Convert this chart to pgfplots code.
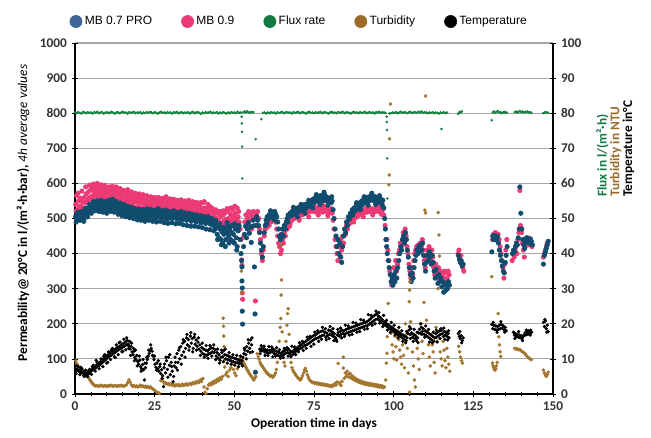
\documentclass[border=0pt]{standalone}
\usepackage{pgfplots}
\pgfplotsset{compat=1.18}
\usepackage{fontspec}
\setmainfont{Carlito}
\newfontfamily\legfont{Liberation Sans}

\definecolor{cBlue}{HTML}{0F4C6E}
\definecolor{cPink}{HTML}{EC3A75}
\definecolor{cGreen}{HTML}{12833E}
\definecolor{cBrown}{HTML}{A4752E}
\definecolor{lBlue}{HTML}{3F6597}
\definecolor{lPink}{HTML}{EB3A74}
\definecolor{lGreen}{HTML}{117A43}
\definecolor{lBrown}{HTML}{9C6A28}
\definecolor{gridgray}{HTML}{A6A6A6}

\pgfplotsset{
  common/.style={
    width=358.5pt, height=263.25pt, scale only axis,
    xmin=0, xmax=150,
    /pgf/number format/assume math mode=true,
    /pgf/number format/1000 sep={},
    tick label style={font=\bfseries\fontsize{10}{12}\selectfont, text=black!80},
    tick align=center,
    major tick length=5pt,
    minor tick length=2.5pt,
    tick style={black, line width=0.6pt},
  },
  pinkdots/.style={forget plot, only marks, mark=*, mark size=1.7pt, cPink, mark options={fill=cPink, draw=cPink}},
  bluedots/.style={forget plot, only marks, mark=*, mark size=1.7pt, cBlue, mark options={fill=cBlue, draw=cBlue}},
  tempdots/.style={only marks, mark=*, mark size=1.05pt, black, mark options={fill=black, draw=black}},
}

\begin{document}
\begin{tikzpicture}
\begin{axis}[
  common,
  at={(0,0)}, anchor=south west,
  ymin=0, ymax=1000,
  xtick={0,25,...,150},
  minor x tick num=4,
  ytick={0,100,...,1000},
  axis x line*=bottom,
  axis y line*=left,
  axis line style={black, line width=0.8pt},
  ymajorgrids=true,
  grid style={gridgray, line width=0.8pt},
  xlabel={\bfseries Operation time in days},
  xlabel style={font=\fontsize{10}{12}\selectfont, at={(axis description cs:0.5,0)}, anchor=center, yshift=-22.5pt},
  ylabel={\bfseries Permeability@ 20°C in l/(m²·h·bar), \textit{\mdseries 4h average values}},
  ylabel style={font=\fontsize{10}{12}\selectfont, at={(axis description cs:-0.1088,0.516)}, anchor=center},
  legend style={draw=none, fill=none, at={(0.47,1.03)}, anchor=south, legend columns=5,
    font=\legfont\fontsize{9}{11}\selectfont, /tikz/every even column/.append style={column sep=20pt}},
  legend image post style={mark size=4.6pt},
  legend image code/.code={\draw[mark repeat=2,mark phase=2] plot coordinates {(0cm,0cm) (0.3cm,0cm) (0.6cm,0cm)};},
]
\addlegendimage{only marks, mark=*, lBlue, mark options={fill=lBlue, draw=lBlue}}
\addlegendentry{MB 0.7 PRO}
\addlegendimage{only marks, mark=*, lPink, mark options={fill=lPink, draw=lPink}}
\addlegendentry{MB 0.9}
\addlegendimage{only marks, mark=*, lGreen, mark options={fill=lGreen, draw=lGreen}}
\addlegendentry{Flux rate}
\addlegendimage{only marks, mark=*, lBrown, mark options={fill=lBrown, draw=lBrown}}
\addlegendentry{Turbidity}
\addlegendimage{only marks, mark=*, black, mark options={fill=black, draw=black}}
\addlegendentry{Temperature}

% MB 0.9
\addplot[pinkdots] coordinates {
(0.2,540)(0.5,565)(0.8,525)(1.1,550)(1.4,530)(1.7,558)(2.0,535)(2.3,548)(2.6,528)(2.9,560)
(3.2,545)(3.5,570)(3.8,552)(4.1,575)(4.4,558)(4.7,580)(5.0,562)(5.3,585)(5.6,565)(5.9,578)(6.2,590)(6.5,570)(6.8,582)(7.1,565)(7.4,588)(7.7,575)(8.0,592)(8.3,568)(8.6,580)(8.9,572)(9.2,586)(9.5,565)(9.8,578)(10.1,560)(10.4,575)(10.7,590)(11.0,568)(11.3,582)(11.6,560)(11.9,574)
(12.2,588)(12.5,565)(12.8,578)(13.1,558)(13.4,572)(13.7,582)(14.0,562)(14.3,575)(14.6,555)(14.9,570)(15.2,550)(15.5,566)(15.8,578)(16.1,556)(16.4,568)(16.7,548)(17.0,562)(17.3,574)(17.6,552)(17.9,565)(18.2,545)(18.5,560)(18.8,548)(19.1,568)(19.4,550)(19.7,560)(20.0,542)(20.3,556)(20.6,545)(20.9,562)(21.2,548)(21.5,555)(21.8,540)(22.1,552)(22.4,545)(22.7,558)(23.0,540)(23.3,550)(23.6,535)(23.9,548)(24.2,555)(24.5,538)(24.8,550)
(25.1,532)(25.4,545)(25.7,538)(26.0,552)(26.3,530)(26.6,545)(26.9,536)(27.2,548)(27.5,528)(27.8,540)(28.1,555)(28.4,535)(28.7,546)(29.0,530)(29.3,542)(29.6,552)(29.9,534)(30.2,545)(30.5,528)(30.8,540)(31.1,550)(31.4,532)(31.7,544)(32.0,526)(32.3,538)(32.6,548)(32.9,530)(33.2,542)(33.5,524)(33.8,536)(34.1,546)(34.4,528)(34.7,540)(35.0,522)(35.3,534)(35.6,544)(35.9,526)(36.2,538)(36.5,520)(36.8,532)(37.1,542)(37.4,524)(37.7,535)(38.0,518)(38.3,530)(38.6,540)(38.9,522)(39.2,533)(39.5,516)(39.8,528)(40.1,545)(40.4,520)(40.7,530)(41.0,515)(41.3,526)(41.6,512)(41.9,524)(42.2,535)(42.5,515)(42.8,522)(43.1,508)(43.4,520)(43.7,505)(44.0,515)
(44.3,500)(44.6,520)(44.9,495)(45.2,512)(45.5,488)(45.8,505)(46.1,480)(46.4,510)(46.7,492)(47.0,515)(47.3,498)(47.6,485)(47.9,520)(48.2,500)(48.5,490)(48.8,512)(49.1,495)(49.4,525)(49.7,505)(50.0,488)(50.3,515)(50.6,498)(50.9,530)(51.2,505)(51.5,490)(51.8,470)(52.1,440)(52.3,382)(52.4,367)(52.5,288)(52.6,270)
(53.0,450)(53.3,490)(53.6,510)(53.9,480)(54.2,500)(54.5,520)(54.8,495)(55.1,510)(55.4,470)(55.7,505)(56.0,520)(56.3,480)(56.6,265)(56.9,510)
(57.3,520)(57.6,500)(57.9,470)(58.2,440)(58.5,400)(58.8,380)(59.1,410)(59.4,450)(59.7,470)(60.0,485)(60.3,475)(60.6,495)(60.9,480)(61.2,500)(61.5,490)(61.8,505)(62.1,495)(62.4,510)(62.7,500)(63.0,490)(63.3,470)(63.6,450)(63.9,430)(64.2,420)(64.5,400)(64.8,410)(65.1,440)(65.4,430)(65.7,460)(66.0,450)(66.3,480)(66.6,470)
(66.9,490)(67.2,500)(67.5,485)(67.8,505)(68.1,495)(68.4,510)(68.7,500)(69.0,512)(69.3,502)(69.6,515)(69.9,505)(70.2,518)(70.5,508)(70.8,520)(71.1,510)(71.4,522)(71.7,512)(72.0,525)(72.3,515)(72.6,528)(72.9,518)(73.2,530)(73.5,520)(73.8,525)(74.1,532)(74.4,520)(74.7,528)(75.0,522)(75.3,530)(75.6,518)(75.9,526)(76.2,532)(76.5,520)(76.8,528)(77.1,522)(77.4,530)(77.7,518)(78.0,526)(78.3,520)(78.6,528)(78.9,522)(79.2,530)(79.5,518)(79.8,525)(80.1,520)(80.4,528)(80.7,515)
(81.0,495)(81.3,470)(81.6,440)(81.9,420)(82.2,400)(82.5,380)(82.8,420)(83.1,395)(83.4,440)(83.7,410)(84.0,450)(84.3,430)(84.6,470)(84.9,455)(85.2,480)(85.5,470)(85.8,495)
(86.1,485)(86.4,500)(86.7,490)(87.0,508)(87.3,498)(87.6,512)(87.9,502)(88.2,515)(88.5,505)(88.8,518)(89.1,510)(89.4,520)(89.7,512)(90.0,522)(90.3,515)(90.6,525)(90.9,517)(91.2,526)(91.5,518)(91.8,528)(92.1,520)(92.4,527)(92.7,519)(93.0,528)(93.3,521)(93.6,526)(93.9,519)(94.2,528)(94.5,522)(94.8,527)(95.1,520)(95.4,528)(95.7,522)(96.0,526)(96.3,520)(96.6,527)(96.9,510)
(97.3,480)(97.6,440)(97.9,440)(98.2,410)(98.5,380)(98.8,350)(99.1,340)(99.4,310)(99.7,330)(100.0,360)(100.3,340)(100.6,380)(100.9,350)(101.2,370)(101.5,400)(101.8,410)(102.1,430)(102.4,420)(102.7,440)(103.0,460)(103.3,430)(103.6,470)(103.9,450)(104.2,420)(104.5,400)(104.8,370)(105.1,350)(105.4,330)(105.7,360)(106.0,340)(106.3,380)(106.6,400)(106.9,410)(107.2,420)(107.5,415)(107.8,425)(108.1,410)(108.4,430)(108.7,420)(109.0,440)(109.3,410)(109.6,380)(109.9,360)(110.2,390)(110.5,410)(110.8,400)(111.1,420)(111.4,400)(111.7,380)(112.0,410)(112.3,390)(112.6,360)(112.9,340)(113.2,370)(113.5,350)(113.8,330)(114.1,360)(114.4,340)(114.7,350)(115.0,320)(115.3,340)(115.6,330)(115.9,350)(116.2,320)(116.5,345)(116.8,330)(117.1,350)(117.4,340)
(120.2,400)(120.5,410)(120.8,380)(121.1,395)(121.4,370)(121.7,360)(122.0,350)
(131.0,440)(131.3,455)(131.6,445)(131.9,460)(132.2,450)(132.5,445)(132.8,455)(133.1,440)(133.4,420)(133.7,400)(134.0,380)(134.3,360)(134.6,330)(134.9,370)(135.2,410)(135.5,440)
(137.2,380)(137.5,400)(137.8,390)(138.1,410)(138.4,420)(138.7,400)(139.0,440)(139.3,460)(139.6,580)(139.8,480)(140.1,460)(140.4,430)(140.7,410)(141.0,390)(141.3,420)(141.6,440)(141.9,430)(142.2,445)(142.5,425)(142.8,440)(143.1,430)(143.4,420)
(147.0,390)(147.3,400)(147.6,410)(147.9,420)(148.2,430)
};
\addplot[pinkdots] coordinates {
(0.35,520)(0.95,572)(1.55,535)(2.15,578)(2.75,518)(3.35,590)(3.95,548)(4.55,595)(5.15,555)(5.75,598)(6.35,560)(6.95,600)(7.55,555)(8.15,596)(8.75,558)(9.35,594)(9.95,552)(10.55,585)(11.15,550)(11.75,592)(12.35,552)(12.95,590)(13.55,548)(14.15,585)(14.75,545)(15.35,580)(15.95,540)(16.55,582)(17.15,538)(17.75,576)(18.35,535)(18.95,572)(19.55,532)(20.15,570)(20.75,530)(21.35,568)(21.95,528)(22.55,565)(23.15,525)(23.75,562)(24.35,522)(24.95,560)(25.55,520)(26.15,560)(26.75,518)(27.35,558)(27.95,515)(28.55,562)(29.15,516)(29.75,556)(30.35,512)(30.95,555)(31.55,514)(32.15,552)(32.75,510)(33.35,553)(33.95,512)(34.55,550)(35.15,508)(35.75,552)(36.35,506)(36.95,548)(37.55,505)(38.15,546)(38.75,504)(39.35,545)(39.95,502)(40.55,548)(41.15,500)(41.75,540)(42.35,498)(42.95,530)(43.55,492)(44.15,525)(44.75,485)(45.35,520)(45.95,475)(46.55,522)(47.15,478)(47.75,528)(48.35,475)(48.95,530)(49.55,482)(50.15,535)(50.75,478)(51.35,520)
(67.35,478)(68.85,520)(70.35,495)(71.85,532)(73.35,505)(74.85,538)(76.35,510)(77.85,536)(79.35,508)(87.45,490)(88.95,525)(90.45,505)(91.95,535)(93.45,510)(94.95,535)(96.15,512)
};

% MB 0.7 PRO
\addplot[bluedots] coordinates {
(0.2,505)(0.5,498)(0.8,512)(1.1,503)(1.4,508)(1.7,497)(2.0,515)(2.3,504)(2.6,510)(2.9,500)(3.2,520)(3.5,512)(3.8,524)(4.1,516)(4.4,530)(4.7,522)(5.0,535)(5.3,528)(5.6,538)(5.9,530)(6.2,540)(6.5,532)(6.8,545)(7.1,536)(7.4,530)(7.7,542)(8.0,535)(8.3,528)(8.6,540)(8.9,532)(9.2,526)(9.5,538)(9.8,530)(10.1,524)(10.4,536)(10.7,542)(11.0,530)(11.3,548)(11.6,538)(11.9,530)(12.2,544)(12.5,536)(12.8,528)(13.1,540)(13.4,532)(13.7,524)(14.0,535)(14.3,527)(14.6,520)(14.9,532)(15.2,525)(15.5,518)(15.8,530)(16.1,522)(16.4,515)(16.7,526)(17.0,518)(17.3,512)(17.6,524)(17.9,516)(18.2,510)(18.5,522)(18.8,514)(19.1,508)(19.4,520)(19.7,512)(20.0,505)(20.3,516)(20.6,510)(20.9,503)(21.2,514)(21.5,507)(21.8,500)(22.1,512)(22.4,518)(22.7,508)(23.0,515)(23.3,505)(23.6,512)(23.9,520)(24.2,510)(24.5,504)(24.8,515)
(25.1,508)(25.4,500)(25.7,512)(26.0,520)(26.3,510)(26.6,505)(26.9,515)(27.2,508)(27.5,500)(27.8,512)(28.1,505)(28.4,515)(28.7,508)(29.0,498)(29.3,510)(29.6,503)(29.9,512)(30.2,506)(30.5,500)(30.8,510)(31.1,504)(31.4,512)(31.7,505)(32.0,498)(32.3,508)(32.6,502)(32.9,510)(33.2,504)(33.5,496)(33.8,506)(34.1,500)(34.4,508)(34.7,502)(35.0,495)(35.3,505)(35.6,498)(35.9,506)(36.2,500)(36.5,492)(36.8,503)(37.1,497)(37.4,505)(37.7,498)(38.0,490)(38.3,500)(38.6,494)(38.9,502)(39.2,496)(39.5,488)(39.8,498)(40.1,492)(40.4,500)(40.7,494)(41.0,486)(41.3,496)(41.6,490)(41.9,498)(42.2,492)(42.5,484)(42.8,494)(43.1,488)(43.4,480)(43.7,490)
(44.0,470)(44.3,485)(44.6,455)(44.9,478)(45.2,445)(45.5,470)(45.8,440)(46.1,462)(46.4,430)(46.7,455)(47.0,470)(47.3,440)(47.6,460)(47.9,475)(48.2,450)(48.5,468)(48.8,440)(49.1,460)(49.4,480)(49.7,455)(50.0,430)(50.3,470)(50.6,445)(50.9,420)(51.2,465)(51.5,480)(51.8,440)
(52.1,400)(52.3,380)(52.4,362)(52.4,322)(52.5,302)(52.5,236)(52.6,199)(52.9,420)(53.2,455)(53.5,478)(53.8,445)(54.1,470)(54.4,488)(54.7,458)(55.0,475)(55.3,432)(55.6,478)(55.9,495)(56.3,362)(56.5,228)(56.6,62)(56.8,480)
(57.0,505)(57.3,495)(57.6,480)(57.9,460)(58.2,430)(58.5,410)(58.8,390)(59.1,420)(59.4,460)(59.7,480)(60.0,495)(60.3,505)(60.6,498)(60.9,510)(61.2,502)(61.5,515)(61.8,505)(62.1,518)(62.4,510)(62.7,520)(63.0,512)(63.3,505)(63.6,490)(63.9,470)(64.2,450)(64.5,440)(64.8,455)(65.1,470)(65.4,450)(65.7,480)(66.0,470)(66.3,490)
(66.6,500)(66.9,510)(67.2,505)(67.5,515)(67.8,508)(68.1,520)(68.4,512)(68.7,525)(69.0,515)(69.3,528)(69.6,518)(69.9,530)(70.2,520)(70.5,532)(70.8,522)(71.1,535)(71.4,525)(71.7,538)(72.0,528)(72.3,540)(72.6,530)(72.9,542)(73.2,535)(73.5,545)(73.8,538)(74.1,550)(74.4,540)(74.7,555)(75.0,545)(75.3,558)(75.6,548)(75.9,560)(76.2,550)(76.5,562)(76.8,552)(77.1,565)(77.4,555)(77.7,562)(78.0,550)(78.3,568)(78.6,556)(78.9,562)(79.2,550)(79.5,558)(79.8,548)(80.1,555)(80.4,545)(80.7,550)
(81.0,525)(81.3,500)(81.6,470)(81.9,450)(82.2,420)(82.5,440)(82.8,400)(83.1,430)(83.4,390)(83.7,375)(84.0,420)(84.3,450)(84.6,470)(84.9,460)(85.2,490)(85.5,480)(85.8,505)
(86.1,498)(86.4,515)(86.7,508)(87.0,525)(87.3,518)(87.6,530)(87.9,522)(88.2,535)(88.5,528)(88.8,540)(89.1,532)(89.4,545)(89.7,536)(90.0,550)(90.3,540)(90.6,555)(90.9,545)(91.2,558)(91.5,548)(91.8,560)(92.1,550)(92.4,562)(92.7,552)(93.0,566)(93.3,555)(93.6,560)(93.9,550)(94.2,562)(94.5,552)(94.8,558)(95.1,548)(95.4,556)(95.7,546)(96.0,555)(96.3,545)(96.6,552)(96.9,530)
(97.2,500)(97.4,470)(97.6,440)(97.8,420)(98.0,400)(98.3,380)(98.6,360)(98.9,340)(99.2,320)(99.5,330)(99.8,310)(100.1,340)(100.4,320)(100.7,350)(101.0,330)(101.3,360)(101.6,380)(101.9,400)(102.2,420)(102.5,410)(102.8,440)(103.1,450)(103.4,430)(103.7,460)(104.0,440)(104.3,410)(104.6,390)(104.9,360)(105.2,340)(105.5,320)(105.8,345)(106.1,330)(106.4,360)(106.7,380)(107.0,395)(107.3,410)(107.6,400)(107.9,420)(108.2,405)(108.5,425)(108.8,410)(109.1,430)(109.4,395)(109.7,370)(110.0,350)(110.3,375)(110.6,395)(110.9,380)(111.2,405)(111.5,390)(111.8,370)(112.1,395)(112.4,375)(112.7,350)(113.0,330)(113.3,355)(113.6,335)(113.9,315)(114.2,340)(114.5,320)(114.8,330)(115.1,305)(115.4,320)(115.7,290)(116.0,310)(116.3,295)(116.6,315)(116.9,300)(117.2,320)(117.5,310)
(120.3,395)(120.6,385)(120.9,375)(121.2,380)(121.5,365)(121.8,370)
(130.8,405)(131.1,450)(131.4,440)(131.7,452)(132.0,445)(132.3,438)(132.6,448)(132.9,430)(133.2,410)(133.5,395)(133.8,380)(134.1,365)(134.4,350)(134.7,345)(135.0,375)(135.3,395)(135.6,420)
(137.3,400)(137.6,410)(137.9,405)(138.2,420)(138.5,430)(138.8,425)(139.1,445)(139.4,470)(139.6,590)(139.9,515)(140.2,470)(140.5,440)(140.8,425)(141.1,415)(141.4,430)(141.7,445)(142.0,435)(142.3,440)(142.6,430)(142.9,442)(143.2,435)(143.5,425)
(147.0,370)(147.3,395)(147.6,405)(147.9,415)(148.2,425)(148.5,435)
};
\addplot[bluedots] coordinates {
(0.35,490)(0.95,518)(1.55,495)(2.15,520)(2.75,492)(3.35,530)(3.95,505)(4.55,540)(5.15,515)(5.75,548)(6.35,522)(6.95,550)(7.55,520)(8.15,552)(8.75,518)(9.35,548)(9.95,515)(10.55,552)(11.15,520)(11.75,555)(12.35,518)(12.95,548)(13.55,512)(14.15,544)(14.75,508)(15.35,540)(15.95,505)(16.55,535)(17.15,502)(17.75,532)(18.35,500)(18.95,528)(19.55,496)(20.15,526)(20.75,495)(21.35,525)(21.95,492)(22.55,528)(23.15,495)(23.75,526)(24.35,492)(24.95,524)(25.55,490)(26.15,528)(26.75,492)(27.35,522)(27.95,488)(28.55,524)(29.15,486)(29.75,520)(30.35,488)(30.95,522)(31.55,485)(32.15,518)(32.75,486)(33.35,520)(33.95,482)(34.55,516)(35.15,480)(35.75,515)(36.35,478)(36.95,512)(37.55,478)(38.15,510)(38.75,476)(39.35,508)(39.95,474)(40.55,506)(41.15,470)(41.75,505)(42.35,468)(42.95,500)(43.55,465)(44.15,495)(44.75,440)(45.35,485)(45.95,425)(46.55,475)(47.15,420)(47.75,488)(48.35,430)(48.95,478)(49.55,435)(50.15,485)(50.75,410)(51.35,475)
(60.15,485)(61.35,522)(62.55,496)(66.75,490)(68.55,532)(69.75,505)(70.95,540)(72.15,515)(73.35,552)(74.55,530)(75.75,568)(76.95,540)(78.15,575)(79.35,538)(80.55,562)(87.15,510)(88.35,545)(89.55,525)(90.75,562)(91.95,538)(93.15,572)(94.35,540)(95.55,565)(96.45,538)
};
\end{axis}

\begin{axis}[
  common,
  at={(0,0)}, anchor=south west,
  ymin=0, ymax=100,
  ytick={0,10,...,100},
  axis x line=none,
  axis y line*=right,
  axis line style={black, line width=0.8pt},
  clip=false,
]
% Flux rate
\addplot[only marks, mark=*, mark size=0.75pt, cGreen, mark options={fill=cGreen, draw=cGreen}] coordinates {
(0,80.2)(0.5,80.0)(1,80.3)(1.5,80.1)(2,79.9)(2.5,80.4)(3,80.2)(3.5,80.0)(4,80.3)(4.5,80.1)(5,80.2)(5.5,79.9)(6,80.3)(6.5,80.1)(7,80.4)(7.5,80.0)(8,80.2)(8.5,80.3)(9,79.9)(9.5,80.1)(10,80.3)(10.5,80.0)(11,80.2)(11.5,80.4)(12,80.1)(12.5,79.9)(13,80.2)(13.5,80.3)(14,80.0)(14.5,80.2)(15,80.4)(15.5,80.1)(16,80.2)(16.5,79.9)(17,80.3)(17.5,80.1)(18,80.2)(18.5,80.4)(19,80.0)(19.5,80.2)(20,80.1)(20.5,80.3)(21,79.9)(21.5,80.2)(22,80.0)(22.5,80.3)(23,80.1)(23.5,80.4)(24,80.2)(24.5,80.0)(25,80.3)(25.5,80.1)(26,79.9)(26.5,80.2)(27,80.4)(27.5,80.1)(28,80.2)(28.5,80.0)(29,80.3)(29.5,80.1)(30,80.2)(30.5,79.9)(31,80.3)(31.5,80.1)(32,80.4)(32.5,80.0)(33,80.2)(33.5,80.3)(34,80.0)(34.5,80.2)(35,80.1)(35.5,80.3)(36,79.9)(36.5,80.2)(37,80.4)(37.5,80.0)(38,80.2)(38.5,80.3)(39,80.1)(39.5,79.8)(40,80.2)(40.5,80.0)(41,80.3)(41.5,80.1)(42,80.2)(42.5,80.4)(43,80.0)(43.5,80.2)(44,80.1)(44.5,80.3)(45,79.9)(45.5,80.2)(46,80.0)(46.5,80.3)(47,80.1)(47.5,79.9)(48,80.2)(48.5,80.0)(49,80.3)(49.5,80.1)(50,80.2)(50.5,80.0)(51,80.4)(51.5,80.1)(52,80.2)
(52.3,79.0)(52.35,77.1)(52.4,74.7)(52.45,70.5)(52.5,61.4)
(52.8,80.3)(53.2,80.5)(53.6,80.2)(54.0,80.6)(54.4,80.3)(54.8,80.1)(55.2,80.4)(55.6,80.2)(56.0,80.3)
(56.7,72.6)(58.5,78.3)
(59.0,80.1)(59.5,80.2)(60,79.9)(60.5,80.2)(61,80.0)(61.5,80.3)(62,80.1)(62.5,80.2)(63,79.9)(63.5,80.3)(64,80.1)(64.5,80.2)(65,80.4)(65.5,80.0)(66,80.2)(66.5,80.3)(67,80.1)(67.5,80.2)(68,79.9)(68.5,80.3)(69,80.1)(69.5,80.2)(70,80.4)(70.5,80.0)(71,80.2)(71.5,80.3)(72,80.1)(72.5,79.9)(73,80.2)(73.5,80.4)(74,80.1)(74.5,80.2)(75,80.0)(75.5,80.3)(76,80.1)(76.5,80.2)(77,80.4)(77.5,80.0)(78,80.2)(78.5,80.3)(79,80.1)(79.5,79.9)(80,80.2)(80.5,80.4)(81,80.1)(81.5,80.2)(82,80.0)(82.5,80.3)(83,80.1)(83.5,80.2)(84,80.4)(84.5,80.0)(85,80.2)(85.5,80.3)(86,80.1)(86.5,79.9)(87,80.2)(87.5,80.4)(88,80.1)(88.5,80.2)(89,80.0)(89.5,80.3)(90,80.1)(90.5,80.2)(91,80.4)(91.5,80.0)(92,80.2)(92.5,80.3)(93,80.1)(93.5,80.2)(94,79.9)(94.5,80.3)(95,80.2)(95.5,80.4)(96,80.1)(96.5,80.3)(97,80.2)(97.4,80.1)
(97.8,79.0)(97.85,77.5)(97.9,75.2)(97.95,67.1)(98.0,55.7)
(98.7,79.9)(99.2,80.0)(99.7,80.2)(100.2,80.1)(100.7,80.3)(101.2,80.0)(101.7,80.2)(102.2,80.4)(102.7,80.1)(103.2,80.2)(103.7,80.3)(104.2,80.0)(104.7,80.2)(105.2,80.4)(105.7,80.1)(106.2,80.2)(106.7,80.3)(107.2,80.1)(107.7,80.4)(108.2,80.2)(108.7,80.5)(109.2,80.1)(109.7,80.3)(110.2,80.2)(110.7,80.0)(111.2,80.2)(111.7,80.1)(112.2,80.3)(112.7,80.0)(113.2,80.2)(113.7,80.1)(114.2,79.9)(114.7,80.2)(115.2,80.1)(115.7,80.3)(116.2,80.0)(116.7,80.2)
(115.0,75.5)
(120.2,79.8)(120.5,80.1)(120.8,80.4)(121.1,80.2)(121.4,80.5)
(130.8,78.0)
(131.1,80.2)(131.5,80.5)(131.9,80.1)(132.3,80.4)(132.7,80.6)(133.1,80.2)(133.5,80.3)(133.9,80.0)(134.3,80.2)(134.7,80.4)(135.1,80.1)(135.5,80.2)
(138.0,80.3)(138.4,80.5)(138.8,80.2)(139.2,80.4)(139.6,80.6)(140.0,80.3)(140.4,80.5)(140.8,80.2)(141.2,80.4)(141.6,80.3)(142.0,80.5)(142.4,80.2)(142.8,80.3)(143.2,80.1)
(146.9,80.0)(147.3,80.2)(147.7,80.3)(148.1,80.2)(148.5,80.1)
};
% Turbidity
\addplot[only marks, mark=*, mark size=1.15pt, cBrown, mark options={fill=cBrown, draw=cBrown}] coordinates {
(0.2,9.5)(0.5,8.7)(0.8,8.2)(1.1,7.8)(1.4,7.5)(1.7,7.2)(2.0,7.0)(2.3,6.8)(2.6,6.6)(2.9,6.3)(3.2,6.0)(3.5,5.6)(3.8,5.2)(4.1,4.8)(4.4,4.4)(4.7,4.0)(5.0,3.6)(5.3,3.2)(5.6,2.9)(5.9,2.6)(6.2,2.4)(6.5,2.3)
(6.9,2.4)(7.3,2.2)(7.7,2.3)(8.1,2.5)(8.5,2.3)(8.9,2.2)(9.3,2.4)(9.7,2.3)(10.1,2.2)(10.5,2.4)(10.9,2.3)(11.3,2.5)(11.7,2.3)(12.1,2.2)(12.5,2.4)(12.9,2.3)(13.3,2.2)(13.7,2.4)(14.1,2.3)(14.5,2.5)(14.9,2.3)(15.3,2.2)(15.7,2.4)(16.1,2.6)(16.5,3.2)(16.9,4.0)(17.3,3.4)(17.7,2.6)(18.1,2.2)(18.5,2.4)(18.9,2.1)(19.3,2.3)(19.7,2.0)(20.1,2.2)(20.5,2.5)(20.9,2.1)(21.3,2.3)(21.7,2.0)(22.1,2.2)(22.5,1.9)(22.9,2.1)(23.3,1.8)(23.7,2.0)(24.1,1.6)(24.5,1.4)(24.9,1.1)(25.3,0.8)(25.7,0.5)(26.1,0.3)(26.5,0.2)
(26.9,3.8)(27.3,4.2)(27.7,3.5)(28.1,3.0)(28.5,3.2)(28.9,2.8)(29.3,3.0)(29.7,2.6)(30.1,2.9)(30.5,2.5)(30.9,2.7)(31.3,2.3)(31.7,2.6)(32.1,2.4)(32.5,2.7)(32.9,2.3)(33.3,2.5)(33.7,2.8)(34.1,2.4)(34.5,2.6)(34.9,2.9)(35.3,2.5)(35.7,2.8)(36.1,3.0)(36.5,2.7)(36.9,3.2)(37.3,2.9)(37.7,3.4)(38.1,3.1)(38.5,3.6)(38.9,3.3)(39.3,4.0)(39.7,3.6)(40.1,4.4)(40.5,2.0)(40.8,0.5)(41.1,0.2)(41.5,1.5)(41.9,2.5)(42.3,3.0)(42.7,2.6)(43.1,3.4)(43.5,3.0)(43.9,3.8)(44.3,3.4)(44.7,4.2)(45.1,3.8)(45.5,4.6)(45.9,4.2)(46.3,5.0)
(46.5,21.6)(46.6,19.3)(46.7,16.5)(46.8,13.5)(46.9,9.6)(47.0,7.7)(47.3,5.5)(47.7,6.2)(48.1,5.0)(48.5,6.8)(48.9,7.5)(49.3,8.5)(49.7,7.0)(50.1,6.0)(50.5,5.2)(50.9,7.2)(51.3,8.8)(51.7,9.8)(52.0,10.5)(52.2,35.0)(52.3,29.0)(52.5,10.0)(52.8,9.2)(53.1,8.6)(53.4,8.0)(53.7,7.5)(54.0,7.0)(54.3,6.5)(54.6,6.0)(54.9,5.6)(55.2,5.2)(55.5,4.8)(55.8,4.4)(56.1,4.0)(56.4,4.5)(56.7,5.0)
(57.2,11.5)(57.5,10.6)(57.8,9.8)(58.1,9.0)(58.4,8.4)(58.7,8.0)(59.0,7.6)(59.3,7.2)(59.6,6.8)(59.9,6.4)(60.2,6.0)(60.5,5.8)(60.8,5.5)(61.1,5.3)(61.4,5.0)(61.7,5.2)(62.0,4.8)(62.3,5.0)(62.6,5.4)(62.9,6.0)(63.2,7.0)(63.5,9.0)(63.8,12.0)(64.1,15.0)(64.4,19.0)(64.6,21.5)(64.7,28.2)(64.8,32.5)(64.8,42.4)(65.0,17.7)(65.3,12.0)(65.6,9.0)(65.9,8.0)(66.2,15.0)(66.5,19.6)(66.7,22.9)(66.9,24.3)(67.2,17.0)(67.5,12.0)(67.8,9.0)
(68.1,7.5)(68.4,6.8)(68.7,6.2)(69.0,5.8)(69.3,5.4)(69.6,5.0)(69.9,4.7)(70.2,4.4)(70.5,4.2)(70.8,4.0)(71.1,4.5)(71.4,5.2)(71.7,6.0)(72.0,6.8)(72.3,7.3)(72.6,6.5)(72.9,5.5)(73.2,4.8)(73.5,4.2)(73.8,3.8)(74.1,3.6)(74.4,3.4)(74.7,3.2)(75.0,3.3)(75.3,3.0)(75.6,3.2)(75.9,2.9)(76.2,3.1)(76.5,2.8)(76.8,3.0)(77.1,2.7)(77.4,2.9)(77.7,2.6)(78.0,2.8)(78.3,2.5)(78.6,2.7)(78.9,2.4)(79.2,2.6)(79.5,2.3)(79.8,2.5)(80.1,2.2)(80.4,2.4)(80.7,2.1)(81.0,2.6)(81.3,2.4)(81.6,3.0)(81.9,2.6)(82.2,3.4)(82.6,8.7)(82.9,3.2)(83.2,2.8)(83.5,2.4)(83.8,3.6)(84.2,10.5)(84.2,7.4)
(84.5,4.5)(84.8,6.0)(85.1,5.0)(85.4,6.5)(85.7,5.6)(86.0,4.8)(86.3,5.9)(86.6,4.6)(86.9,5.2)(87.2,4.2)(87.5,4.8)(87.8,3.9)(88.1,4.4)(88.4,3.6)(88.7,4.1)(89.0,3.4)(89.3,3.8)(89.6,3.2)(89.9,3.6)(90.2,3.0)(90.5,3.4)(90.8,2.8)(91.1,3.2)(91.4,2.7)(91.7,3.1)(92.0,2.6)(92.3,3.0)(92.6,2.5)(92.9,2.9)(93.2,2.4)(93.5,2.8)(93.8,2.3)(94.1,2.7)(94.4,2.2)(94.7,2.6)(95.0,2.1)(95.3,2.5)(95.6,2.0)(95.9,2.4)(96.2,1.9)(96.5,2.3)(96.8,1.8)(97.1,2.0)
(97.5,4.0)(97.7,8.8)(97.9,11.6)(98.0,16.3)(98.3,25.8)(98.5,59.6)(98.6,62.4)(98.7,72.7)(99.0,82.6)(99.2,17.3)(99.5,14.0)(99.8,12.0)(100.1,10.0)(100.4,16.5)(100.7,13.5)(101.0,9.7)(101.3,18.0)(101.6,15.5)(101.9,12.5)(102.2,10.5)(102.5,8.5)(102.8,14.0)(103.1,11.0)(103.4,7.5)(103.7,20.0)(104.0,17.0)(104.3,13.0)(104.6,6.0)(104.9,26.3)(105.0,29.6)(105.1,32.0)(105.0,0.5)(105.3,20.6)(105.6,17.0)(105.9,12.0)(106.2,8.0)(106.5,4.0)(106.8,2.0)(107.1,16.0)(107.4,13.0)(107.7,10.0)(108.0,7.0)(108.3,20.0)(108.6,17.5)(108.9,15.0)(109.2,11.5)(109.5,26.1)(109.8,52.4)(110.0,51.6)(110.0,84.9)(110.3,21.0)(110.6,18.0)(110.9,14.0)(111.2,10.5)(111.5,8.0)(111.8,17.0)(112.1,14.0)(112.4,12.0)(112.7,9.0)(113.0,6.0)(113.3,19.0)(113.6,15.0)(113.9,30.0)(114.0,51.7)(114.2,45.3)(114.4,39.3)(114.6,12.0)(114.9,10.0)(115.2,8.0)(115.5,15.0)(115.8,12.5)(116.1,9.5)(116.4,7.5)(116.7,13.0)(117.0,10.5)(117.3,8.5)(117.6,6.5)
(120.4,13.6)(120.7,12.0)(121.0,10.5)(121.3,9.5)(121.6,8.8)
(130.8,33.4)(131.0,8.8)(131.2,8.0)(131.4,7.5)(131.6,7.0)(131.8,6.8)(132.0,7.2)(132.2,8.0)(132.5,9.0)(132.8,22.9)(133.0,16.3)(133.2,14.0)(133.4,12.0)(133.6,10.7)
(138.0,13.0)(138.4,12.8)(138.8,12.9)(139.2,12.6)(139.6,12.7)(140.0,12.3)(140.4,12.0)(140.8,11.8)(141.2,11.5)(141.6,11.0)(142.0,10.6)(142.4,10.3)(142.8,10.0)(143.2,9.8)
(147.0,6.8)(147.3,6.0)(147.6,5.5)(147.9,5.0)(148.2,5.5)(148.5,6.2)
};
% Temperature
\addplot[tempdots] coordinates {
(0.2,7.2)(0.5,6.8)(0.8,7.0)(1.1,6.5)(1.4,6.8)(1.7,6.2)(2.0,6.5)(2.3,6.0)(2.6,6.3)(2.9,5.8)(3.2,6.1)(3.5,5.6)(3.8,6.0)(4.1,5.7)(4.4,6.2)(4.7,5.9)(5.0,6.5)(5.3,6.8)(5.6,7.3)(5.9,6.9)(6.2,7.8)(6.5,7.4)(6.8,8.3)(7.1,7.9)(7.4,8.8)(7.7,8.2)(8.0,9.2)(8.3,8.7)(8.6,9.8)(8.9,9.2)(9.2,10.3)(9.5,9.7)(9.8,10.8)(10.1,10.2)(10.4,11.2)(10.7,10.6)(11.0,11.7)(11.3,11.0)(11.6,12.1)(11.9,11.4)(12.2,12.5)(12.5,11.8)(12.8,12.9)(13.1,12.2)(13.4,13.3)(13.7,12.6)(14.0,13.6)(14.3,12.9)(14.6,14.0)(14.9,13.3)(15.2,14.4)(15.5,13.6)(15.8,14.8)(16.1,14.0)(16.4,15.2)(16.7,14.2)
(17.0,13.5)(17.3,12.8)(17.6,13.6)(17.9,12.0)(18.2,11.2)(18.5,12.2)(18.8,10.5)(19.1,9.8)(19.4,11.0)(19.7,9.2)(20.0,8.5)(20.3,9.6)(20.6,7.8)(20.9,7.2)(21.2,8.4)(21.5,6.9)(21.8,4.0)(22.1,7.5)(22.4,8.8)(22.7,9.8)(23.0,10.8)(23.3,11.6)(23.6,12.4)(23.9,13.0)(24.2,12.2)(24.5,10.8)(24.8,9.8)(25.1,8.5)(25.4,7.6)(25.7,8.8)(26.0,7.2)(26.3,6.5)(26.6,7.8)(26.9,5.8)(27.2,6.9)(27.5,5.2)(27.8,2.1)(28.1,8.5)(28.4,6.0)(28.7,9.5)(29.0,7.0)(29.3,10.5)(29.6,8.2)(29.9,5.5)(30.2,9.0)(30.5,6.5)(30.8,3.5)(31.1,8.0)(31.4,10.5)(31.7,7.5)(32.0,11.5)(32.3,9.0)(32.6,12.5)(32.9,10.0)(33.2,13.5)(33.5,11.0)(33.8,14.5)(34.1,12.0)(34.4,15.0)(34.7,13.0)(35.0,16.0)(35.3,14.0)(35.6,15.5)(35.9,13.5)(36.2,16.5)(36.5,14.5)(36.8,15.8)(37.1,13.0)(37.4,16.2)(37.7,14.2)(38.0,15.4)(38.3,13.6)(38.6,14.8)(38.9,12.8)(39.2,14.0)(39.5,12.2)(39.8,13.2)
(40.1,11.5)(40.4,12.8)(40.7,11.2)(41.0,12.5)(41.3,11.0)(41.6,12.3)(41.9,11.4)(42.2,12.8)(42.5,11.6)(42.8,13.2)(43.1,12.0)(43.4,13.0)(43.7,11.8)(44.0,12.6)(44.3,10.8)(44.6,11.8)(44.9,10.2)(45.2,11.2)(45.5,9.6)(45.8,10.5)(46.1,11.8)(46.4,10.6)(46.7,12.4)(47.0,11.2)(47.3,10.0)(47.6,11.0)(47.9,9.8)(48.2,10.8)(48.5,9.6)(48.8,10.5)(49.1,9.4)(49.4,10.4)(49.7,9.2)(50.0,10.2)(50.3,9.0)(50.6,10.0)(50.9,8.9)(51.2,9.8)(51.5,8.8)(51.8,9.6)(52.1,8.7)(52.4,9.5)(52.7,10.5)(53.0,11.5)(53.3,12.5)(53.6,11.2)(53.9,13.5)(54.2,12.2)(54.5,14.5)(54.8,13.0)(55.1,15.4)(55.4,14.0)(55.7,12.0)
(58.0,12.8)(58.3,12.2)(58.6,13.0)(58.9,12.4)(59.2,12.8)(59.5,12.0)(59.8,12.6)(60.1,11.8)(60.4,12.5)(60.7,11.6)(61.0,12.4)(61.3,11.8)(61.6,12.6)(61.9,12.0)(62.2,12.8)(62.5,11.5)(62.8,12.3)(63.1,11.2)(63.4,12.0)(63.7,11.0)(64.0,11.8)(64.3,10.8)(64.6,11.6)(64.9,11.0)(65.2,12.0)(65.5,11.2)(65.8,12.4)(66.1,11.6)(66.4,12.6)(66.7,11.8)(67.0,12.8)(67.3,11.5)(67.6,12.2)(67.9,11.0)(68.2,12.0)(68.5,11.4)(68.8,12.6)(69.1,12.0)(69.4,13.0)(69.7,12.4)(70.0,13.4)(70.3,12.8)(70.6,13.8)(70.9,13.0)(71.2,14.2)(71.5,13.4)(71.8,14.6)(72.1,13.8)(72.4,15.0)(72.7,14.0)(73.0,15.4)(73.3,14.4)(73.6,15.8)(73.9,14.8)(74.2,16.2)(74.5,15.2)(74.8,16.6)(75.1,15.6)(75.4,16.8)(75.7,15.8)(76.0,17.2)(76.3,16.0)(76.6,17.6)(76.9,16.4)(77.2,17.8)(77.5,16.6)(77.8,18.0)(78.1,16.8)(78.4,17.6)(78.7,16.2)(79.0,17.4)(79.3,16.6)(79.6,18.2)(79.9,17.0)(80.2,18.0)(80.5,16.8)(80.8,17.6)(81.1,16.4)(81.4,17.2)(81.7,16.0)(82.0,15.5)(82.3,16.8)(82.6,17.5)(82.9,16.5)(83.2,17.8)(83.5,17.0)(83.8,18.2)(84.1,17.2)(84.4,18.0)(84.7,17.0)
(85.0,18.4)(85.3,17.4)(85.6,18.6)(85.9,17.6)(86.2,18.8)(86.5,17.8)(86.8,19.0)(87.1,18.0)(87.4,19.2)(87.7,18.2)(88.0,19.4)(88.3,18.4)(88.6,19.6)(88.9,18.6)(89.2,19.8)(89.5,18.8)(89.8,20.0)(90.1,19.0)(90.4,20.2)(90.7,19.2)(91.0,20.4)(91.3,19.4)(91.6,20.6)(91.9,19.6)(92.2,21.0)(92.5,20.0)(92.8,21.5)(93.1,20.4)(93.4,22.0)(93.7,20.8)(94.0,22.4)(94.3,21.2)(94.6,22.8)(94.9,21.4)(95.2,22.2)(95.5,21.0)(95.8,21.8)(96.1,20.6)(96.4,21.2)(96.7,20.0)(97.0,20.6)(97.3,19.6)(97.6,20.2)(97.9,19.2)(98.2,19.8)(98.5,18.8)(98.8,19.4)(99.1,18.4)(99.4,19.0)(99.7,18.0)(100.0,18.6)(100.3,17.6)(100.6,18.2)(100.9,17.2)(101.2,17.8)(101.5,16.8)(101.8,17.4)(102.1,16.4)(102.4,17.0)(102.7,16.0)(103.0,16.8)(103.3,15.6)(103.6,16.4)(103.9,15.2)(104.2,16.0)(104.5,17.2)(104.8,18.2)(105.1,17.0)(105.4,18.6)(105.7,17.4)(106.0,16.2)(106.3,17.0)(106.6,15.8)(106.9,16.6)(107.2,15.2)(107.5,16.0)(107.8,17.4)(108.1,18.4)(108.4,17.2)(108.7,19.0)(109.0,17.8)(109.3,18.6)(109.6,17.0)(109.9,18.0)(110.2,16.6)(110.5,17.6)(110.8,16.2)(111.1,17.2)(111.4,15.8)(111.7,16.8)(112.0,15.4)(112.3,16.4)(112.6,15.0)(112.9,16.0)(113.2,17.2)(113.5,16.2)(113.8,17.6)(114.1,16.6)(114.4,18.0)(114.7,17.0)(115.0,18.2)(115.3,17.2)(115.6,16.4)(115.9,17.8)(116.2,16.8)(116.5,17.6)(116.8,16.4)(117.1,17.2)(117.4,16.0)
(120.3,17.2)(120.6,16.4)(120.9,15.8)(121.2,16.6)(121.5,15.2)(121.8,16.0)
(130.8,19.8)(131.1,18.6)(131.4,19.6)(131.7,18.4)(132.0,19.4)(132.3,18.2)(132.6,19.2)(132.9,18.4)(133.2,19.6)(133.5,18.6)(133.8,19.8)(134.1,18.8)(134.4,19.4)(134.7,18.2)(135.0,19.0)(135.3,18.0)
(137.6,17.6)(137.9,16.8)(138.2,17.2)(138.5,16.4)(138.8,17.0)(139.1,16.2)(139.4,16.8)(139.7,16.0)(140.0,16.6)(140.3,15.8)(140.6,16.4)(140.9,16.8)(141.2,17.4)(141.5,16.8)(141.8,17.6)(142.1,17.0)(142.4,18.0)(142.7,17.4)(143.0,18.2)(143.3,17.6)
(147.0,20.4)(147.3,19.2)(147.6,20.8)(147.9,18.6)(148.2,19.6)(148.5,17.8)
};
\addplot[tempdots] coordinates {
(0.35,5.8)(0.95,7.8)(1.55,5.5)(2.15,7.2)(2.75,5.2)(3.35,6.8)(3.95,5.0)(4.55,7.0)(5.15,5.6)(5.75,8.2)(6.35,6.5)(6.95,9.0)(7.55,7.2)(8.15,10.0)(8.75,7.8)(9.35,11.2)(9.95,8.8)(10.55,12.0)(11.15,9.8)(11.75,13.0)(12.35,10.6)(12.95,14.0)(13.55,11.2)(14.15,14.8)(14.75,12.0)(15.35,15.6)(15.95,12.6)(16.55,14.0)(17.15,15.0)(17.45,11.0)(17.75,14.5)(18.35,13.0)(18.65,9.5)(18.95,12.5)(19.55,8.0)(20.15,10.8)(20.75,6.5)(21.35,9.8)(21.95,8.8)(22.55,10.5)(23.15,12.5)(23.75,14.0)(24.35,11.0)(24.95,10.8)(25.55,6.8)(26.15,9.5)(26.75,8.5)(27.35,4.5)(27.95,7.5)(28.55,10.5)(29.15,4.8)(29.75,11.2)(30.35,7.8)(30.95,5.0)(31.55,9.0)(32.15,6.8)(32.75,13.2)(33.35,8.5)(33.95,15.5)(34.55,10.5)(35.15,17.0)(35.75,12.5)(36.35,17.5)(36.95,12.0)(37.55,17.0)(38.15,12.5)(38.75,16.0)(39.35,11.0)(39.95,14.5)(40.55,10.5)(41.15,13.8)(41.75,10.2)(42.35,13.8)(42.95,10.8)(43.55,14.0)(44.15,9.8)(44.75,12.8)(45.35,8.8)(45.95,12.5)(46.55,9.2)(47.15,12.8)(47.75,8.8)(48.35,11.8)(48.95,8.5)(49.55,11.2)(50.15,8.2)(50.75,11.0)(51.35,7.8)(51.95,10.8)(52.55,8.0)(53.15,13.0)(53.75,10.0)(54.35,15.5)(54.95,11.8)(55.55,16.0)
(58.15,11.5)(59.35,13.6)(60.55,11.0)(61.75,13.4)(62.95,10.8)(64.15,12.6)(65.35,10.4)(66.55,13.2)(67.75,10.6)(68.95,13.4)(70.15,12.0)(71.35,15.0)(72.55,13.0)(73.75,16.4)(74.95,14.2)(76.15,18.0)(77.35,15.6)(78.55,18.6)(79.75,15.8)(80.95,18.6)(82.15,15.0)(83.35,18.8)(84.55,16.4)(85.75,19.4)(86.95,17.0)(88.15,20.2)(89.35,17.8)(90.55,21.0)(91.75,18.6)(92.95,22.4)(94.15,20.0)(95.35,23.2)(96.55,19.2)(97.75,21.0)(98.95,17.6)(100.15,19.6)(101.35,16.0)(102.55,18.0)(103.75,14.6)(104.95,19.2)(106.15,15.0)(107.35,17.6)(108.55,20.0)(109.75,16.2)(110.95,18.4)(112.15,14.6)(113.35,18.2)(114.55,15.8)(115.75,18.8)(116.95,15.4)(120.75,17.8)(121.35,14.6)(131.25,20.4)(132.45,17.6)(133.65,20.6)(134.85,17.6)(138.05,15.8)(139.25,17.8)(140.45,15.2)(141.65,18.2)(142.85,16.8)(147.45,21.2)(148.05,17.6)
};
\addplot[tempdots] coordinates {
(0.65,8.0)(1.85,7.6)(3.05,5.0)(4.25,6.6)(5.45,7.8)(6.65,9.6)(7.85,8.6)(9.05,10.8)(10.25,9.0)(11.45,12.6)(12.65,10.4)(13.85,14.6)(15.05,12.2)(16.25,16.0)(16.85,13.0)
(58.45,13.8)(59.65,11.0)(60.85,13.5)(62.05,10.6)(63.25,13.2)(64.45,10.2)(65.65,13.0)(66.85,10.8)(68.05,13.6)(69.25,11.2)(70.45,14.6)(71.65,12.4)(72.85,16.2)(74.05,13.6)(75.25,17.6)(76.45,15.0)(77.65,19.0)(78.85,15.4)(80.05,19.2)(81.25,15.2)(82.45,18.4)(83.65,16.0)(84.85,19.6)(86.05,16.8)(87.25,20.4)(88.45,17.6)(89.65,21.2)(90.85,18.4)(92.05,22.6)(93.25,19.6)(94.45,23.6)(95.65,20.2)(96.85,22.4)(98.05,18.2)(99.25,20.4)(100.45,16.8)(101.65,19.0)(102.85,15.0)(104.05,17.8)(105.25,15.8)(106.45,18.4)(107.65,14.6)(108.85,17.0)(110.05,19.4)(111.25,14.8)(112.45,17.6)(113.65,14.8)(114.85,18.6)(116.05,15.6)(117.25,18.0)
};
\node[rotate=90, anchor=north west, align=left, font=\bfseries\fontsize{10}{8.2}\selectfont, inner sep=0pt]
  at (rel axis cs:1.09,0.561)
  {\textcolor{lGreen}{Flux in l/(m²·h)}\\\textcolor{lBrown}{Turbidity in NTU}\\Temperature in°C};
\end{axis}
\pgfresetboundingbox
\path[use as bounding box] (-56.25pt,-32.25pt) rectangle (432pt,295.5pt);
\end{tikzpicture}
\end{document}
